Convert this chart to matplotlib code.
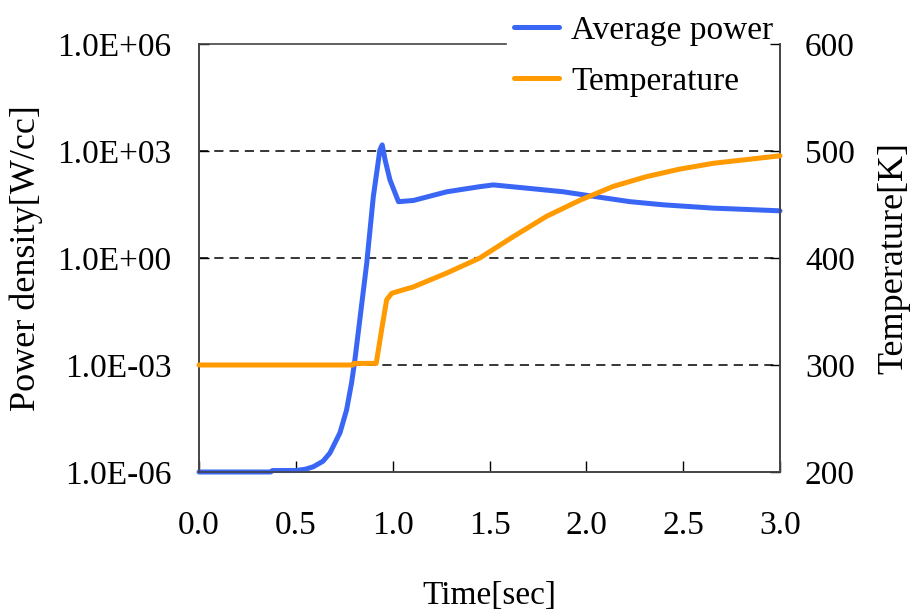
import matplotlib
matplotlib.use("Agg")
import matplotlib.pyplot as plt
import numpy as np

plt.rcParams['font.family'] = ['Liberation Serif', 'DejaVu Serif']

# average power density [W/cc] vs time
t_power = [0.0, 0.37, 0.38, 0.50, 0.55, 0.59, 0.64, 0.676, 0.728, 0.762, 0.788,
           0.805, 0.866, 0.90, 0.934, 0.946, 0.961, 0.986, 1.03, 1.107, 1.28,
           1.45, 1.52, 1.709, 1.88, 2.053, 2.225, 2.397, 2.655, 2.827, 3.0]
power = [1.0e-6, 1.0e-6, 1.1e-6, 1.1e-6, 1.2e-6, 1.4e-6, 2.0e-6, 3.4e-6, 1.26e-5,
         5.5e-5, 3.2e-4, 1.4e-3, 0.71, 52, 1070, 1480, 560, 155, 38, 41, 72,
         100, 112, 89, 72, 52, 38, 31, 25, 23, 21]

# temperature [K] vs time
t_temp = [0.0, 0.795, 0.80, 0.915, 0.943, 0.969, 0.995, 1.05, 1.107, 1.28, 1.45,
          1.623, 1.795, 1.967, 2.14, 2.31, 2.48, 2.655, 2.827, 3.0]
temp = [300, 300, 301.5, 301.5, 333, 361, 367, 370, 373, 386, 400,
        420, 439, 454, 467, 476, 483, 488.5, 492, 495.5]

x_ticks = [0.0, 0.5, 1.0, 1.5, 2.0, 2.5, 3.0]
p_ticks = [1e-6, 1e-3, 1e0, 1e3, 1e6]
p_labels = ["1.0E-06", "1.0E-03", "1.0E+00", "1.0E+03", "1.0E+06"]
t_ticks = [200, 300, 400, 500, 600]

blue = '#3a66f5'
orange = '#ff9a00'
fs = 24

fig = plt.figure(figsize=(9.13, 6.12), dpi=100)
ax = fig.add_axes([199/913, 1-472/612, (780-199)/913, (472-44)/612])
ax2 = ax.twinx()

l1, = ax.plot(t_power, power, color=blue, lw=3.6, clip_on=False, zorder=3,
              solid_capstyle='round', label='Average power')
l2, = ax2.plot(t_temp, temp, color=orange, lw=3.6, clip_on=False, zorder=3,
               solid_capstyle='round', label='Temperature')

ax.set_yscale('log')
ax.set_ylim(1e-6, 1e6)
ax.set_xlim(0, 3)
ax2.set_ylim(200, 600)

ax.set_xticks(x_ticks)
ax.set_xticklabels([f"{v:.1f}" for v in x_ticks])
ax.set_yticks(p_ticks)
ax.set_yticklabels(p_labels)
ax.yaxis.set_minor_locator(matplotlib.ticker.NullLocator())
ax2.set_yticks(t_ticks)

for v in [1e-3, 1e0, 1e3]:
    ax.axhline(v, color='black', lw=1.1, ls=(0, (6, 4)), zorder=1)

ax.tick_params(axis='x', direction='in', length=8, width=1, labelsize=fs, pad=28)
ax.tick_params(axis='y', direction='in', length=7, width=1, labelsize=fs, pad=20)
ax2.tick_params(axis='y', direction='in', length=7, width=1, labelsize=fs, pad=18)

for a in (ax, ax2):
    for s in a.spines.values():
        s.set_color('#444444')
        s.set_linewidth(1.2)
# top border is hidden behind the legend on the right
ax2.spines['top'].set_visible(False)
ax.spines['top'].set_bounds(0, 1.585)

ax.set_xlabel('Time[sec]', fontsize=fs, labelpad=28)
ax.set_ylabel('Power density[W/cc]', fontsize=26, labelpad=10)
ax2.set_ylabel('Temperature[K]', fontsize=26, labelpad=16)

leg = fig.legend(handles=[l1, l2], loc='upper left',
                 bbox_to_anchor=(506/913, 1 - 7/612), fontsize=fs, frameon=False,
                 borderaxespad=0, borderpad=0.25,
                 handlelength=1.35, handletextpad=0.35, labelspacing=0.62)

fig.savefig('out.png', dpi=100)
